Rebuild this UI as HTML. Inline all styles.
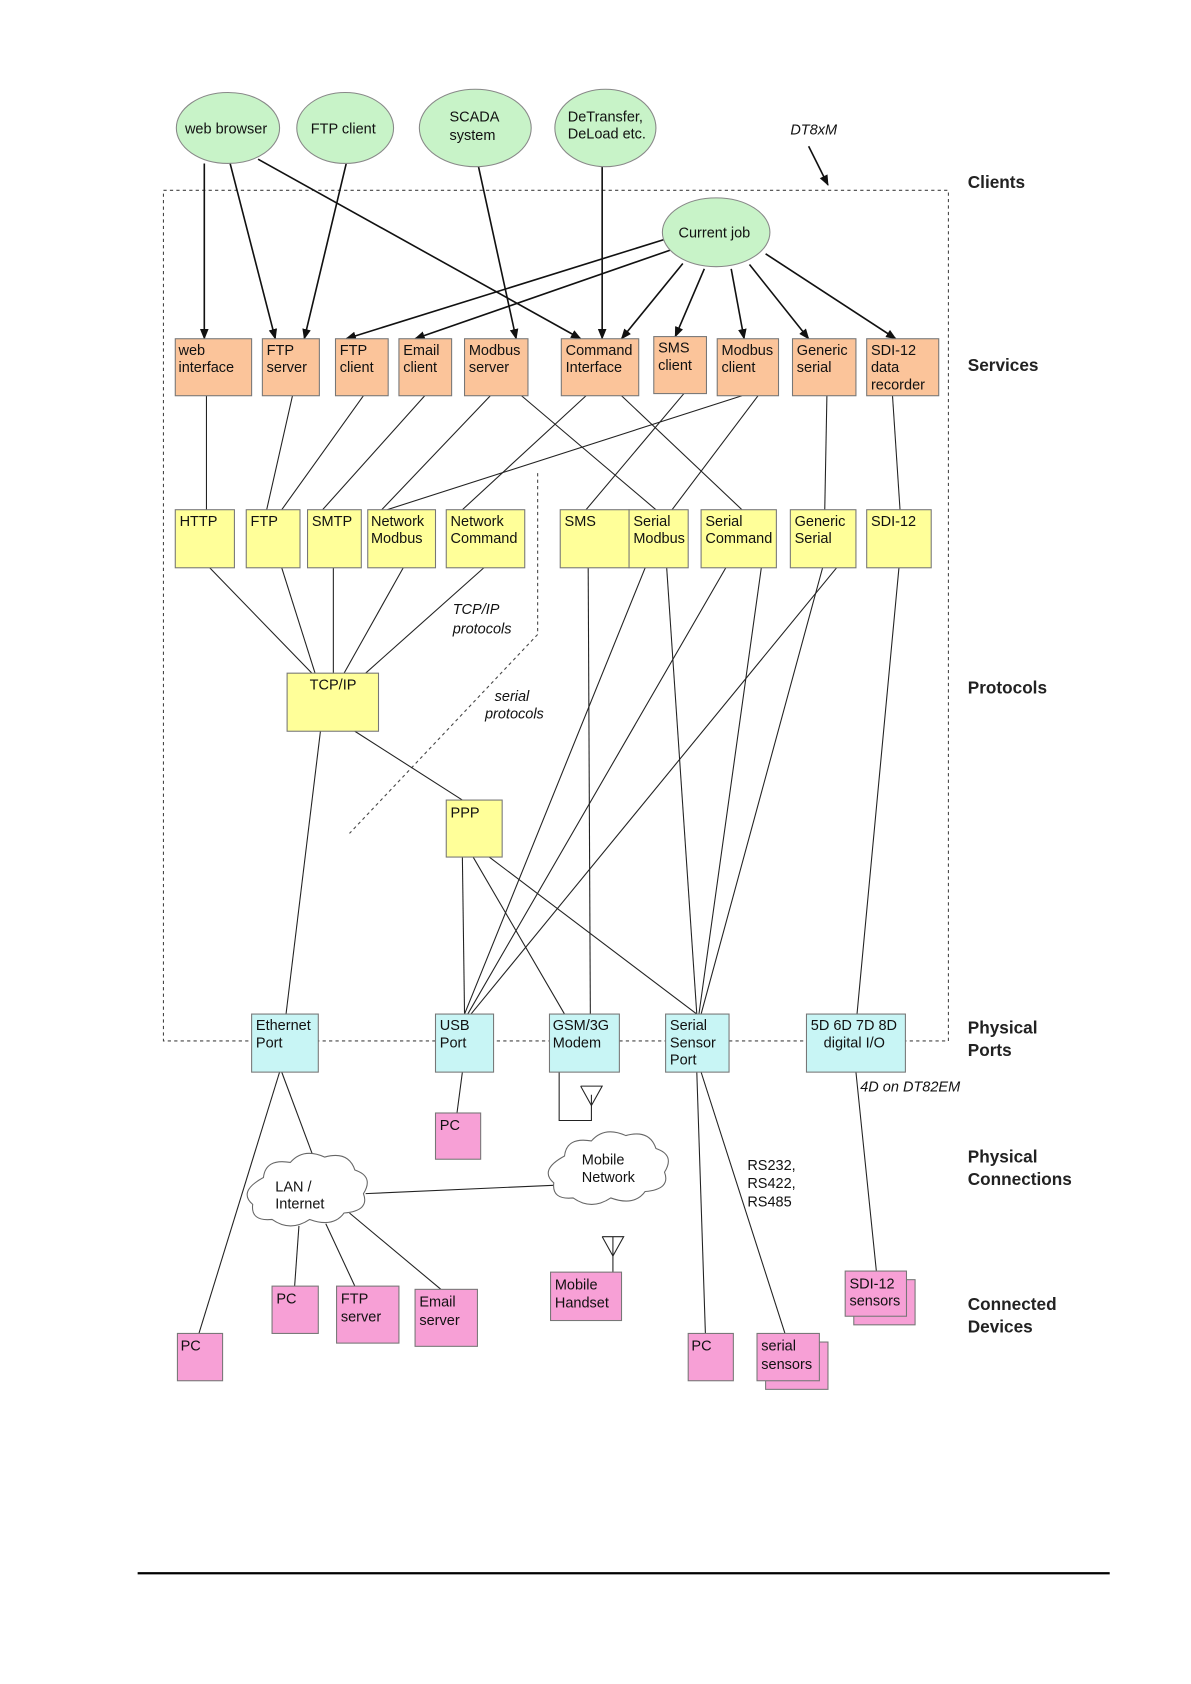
<!DOCTYPE html>
<html><head><meta charset="utf-8"><style>
html,body{margin:0;padding:0;background:#fff;}
svg{display:block;}
text{font-family:"Liberation Sans",sans-serif;font-size:13.5px;fill:#111;}
.b{font-weight:bold;font-size:16px;fill:#222;}
.i{font-style:italic;}
.s{fill:#fbc49a;stroke:#777;stroke-width:1}
.p{fill:#ffff99;stroke:#777;stroke-width:1}
.c{fill:#c8f5f5;stroke:#777;stroke-width:1}
.d{fill:#f7a0d6;stroke:#777;stroke-width:1}
.e{fill:#c8f3c8;stroke:#888;stroke-width:1}
.l{stroke:#222;stroke-width:1;fill:none}
.a{stroke:#111;stroke-width:1.5;fill:none;marker-end:url(#ar)}
</style></head><body>
<svg width="1191" height="1684" viewBox="0 0 1107.6 1566" preserveAspectRatio="none" xmlns="http://www.w3.org/2000/svg">
<defs><marker id="ar" markerWidth="10" markerHeight="10" refX="9" refY="5" orient="auto" markerUnits="userSpaceOnUse"><path d="M0,1 L10,5 L0,9 Z" fill="#111"/></marker></defs>
<rect x="152" y="177" width="730" height="791" fill="none" stroke="#444" stroke-dasharray="3,3"/>
<polyline points="500,440 500,590 325,775" fill="none" stroke="#444" stroke-dasharray="3,3"/>
<!-- client arrows -->
<line class="a" x1="190" y1="152" x2="190" y2="315"/>
<line class="a" x1="214" y1="152" x2="256" y2="315"/>
<line class="a" x1="240" y1="148" x2="540" y2="315"/>
<line class="a" x1="322" y1="152" x2="283" y2="315"/>
<line class="a" x1="445" y1="155" x2="480" y2="315"/>
<line class="a" x1="560" y1="155" x2="560" y2="315"/>
<line class="a" x1="620" y1="222" x2="322" y2="315"/>
<line class="a" x1="625" y1="232" x2="386" y2="315"/>
<line class="a" x1="635" y1="245" x2="578" y2="315"/>
<line class="a" x1="655" y1="250" x2="628" y2="313"/>
<line class="a" x1="680" y1="250" x2="692" y2="315"/>
<line class="a" x1="697" y1="246" x2="752" y2="315"/>
<line class="a" x1="712" y1="236" x2="833" y2="315"/>
<line class="a" x1="752" y1="136" x2="770" y2="172"/>
<!-- service-protocol -->
<g class="l">
<line x1="192" y1="368" x2="192" y2="474"/>
<line x1="272" y1="368" x2="248" y2="474"/>
<line x1="338" y1="368" x2="262" y2="474"/>
<line x1="395" y1="368" x2="300" y2="474"/>
<line x1="456" y1="368" x2="355" y2="474"/>
<line x1="485" y1="368" x2="610" y2="474"/>
<line x1="545" y1="368" x2="430" y2="474"/>
<line x1="578" y1="368" x2="690" y2="474"/>
<line x1="636" y1="366" x2="545" y2="474"/>
<line x1="690" y1="368" x2="360" y2="474"/>
<line x1="705" y1="368" x2="625" y2="474"/>
<line x1="769" y1="368" x2="767" y2="474"/>
<line x1="830" y1="368" x2="837" y2="474"/>
<line x1="195" y1="528" x2="290" y2="626"/>
<line x1="262" y1="528" x2="293" y2="626"/>
<line x1="310" y1="528" x2="310" y2="626"/>
<line x1="375" y1="528" x2="320" y2="626"/>
<line x1="450" y1="528" x2="340" y2="626"/>
<line x1="298" y1="680" x2="266" y2="943"/>
<line x1="330" y1="680" x2="430" y2="744"/>
<line x1="430" y1="797" x2="432" y2="943"/>
<line x1="440" y1="797" x2="525" y2="943"/>
<line x1="455" y1="797" x2="648" y2="943"/>
<line x1="547" y1="528" x2="549" y2="943"/>
<line x1="600" y1="528" x2="432" y2="943"/>
<line x1="620" y1="528" x2="648" y2="943"/>
<line x1="675" y1="528" x2="435" y2="943"/>
<line x1="708" y1="528" x2="650" y2="943"/>
<line x1="778" y1="528" x2="438" y2="943"/>
<line x1="765" y1="528" x2="652" y2="943"/>
<line x1="836" y1="528" x2="797" y2="943"/>
<line x1="260" y1="997" x2="185" y2="1240"/>
<line x1="262" y1="997" x2="293" y2="1080"/>
<line x1="430" y1="997" x2="425" y2="1035"/>
<polyline points="520,997 520,1042 550,1042 550,1018"/>
<polyline points="540,1010 560,1010 550,1028 540,1010"/>
<line x1="340" y1="1110" x2="520" y2="1102"/>
<line x1="278" y1="1140" x2="274" y2="1196"/>
<line x1="303" y1="1138" x2="330" y2="1196"/>
<line x1="325" y1="1128" x2="410" y2="1199"/>
<line x1="648" y1="997" x2="656" y2="1240"/>
<line x1="652" y1="997" x2="730" y2="1240"/>
<line x1="796" y1="997" x2="815" y2="1182"/>
<line x1="570" y1="1150" x2="570" y2="1183"/>
<polyline points="560,1150 580,1150 570,1168 560,1150"/>
</g>
<!-- ellipses -->
<ellipse class="e" cx="212" cy="119" rx="48" ry="33"/><text x="172" y="124">web browser</text>
<ellipse class="e" cx="321" cy="119" rx="45" ry="33"/><text x="289" y="124">FTP client</text>
<ellipse class="e" cx="442" cy="119" rx="52" ry="36"/><text x="418" y="113">SCADA</text><text x="418" y="130">system</text>
<ellipse class="e" cx="563" cy="119" rx="47" ry="36"/><text x="528" y="113">DeTransfer,</text><text x="528" y="129">DeLoad etc.</text>
<ellipse class="e" cx="666" cy="216" rx="50" ry="32"/><text x="631" y="221">Current job</text>
<!-- services -->
<rect class="s" x="163" y="315" width="71" height="53"/><text x="166" y="330">web</text><text x="166" y="346">interface</text>
<rect class="s" x="244" y="315" width="53" height="53"/><text x="248" y="330">FTP</text><text x="248" y="346">server</text>
<rect class="s" x="312" y="315" width="49" height="53"/><text x="316" y="330">FTP</text><text x="316" y="346">client</text>
<rect class="s" x="371" y="315" width="49" height="53"/><text x="375" y="330">Email</text><text x="375" y="346">client</text>
<rect class="s" x="432" y="315" width="59" height="53"/><text x="436" y="330">Modbus</text><text x="436" y="346">server</text>
<rect class="s" x="522" y="315" width="72" height="53"/><text x="526" y="330">Command</text><text x="526" y="346">Interface</text>
<rect class="s" x="608" y="313" width="49" height="53"/><text x="612" y="328">SMS</text><text x="612" y="344">client</text>
<rect class="s" x="667" y="315" width="57" height="53"/><text x="671" y="330">Modbus</text><text x="671" y="346">client</text>
<rect class="s" x="737" y="315" width="59" height="53"/><text x="741" y="330">Generic</text><text x="741" y="346">serial</text>
<rect class="s" x="806" y="315" width="67" height="53"/><text x="810" y="330">SDI-12</text><text x="810" y="346">data</text><text x="810" y="362">recorder</text>
<!-- protocols -->
<rect class="p" x="163" y="474" width="55" height="54"/><text x="167" y="489">HTTP</text>
<rect class="p" x="229" y="474" width="50" height="54"/><text x="233" y="489">FTP</text>
<rect class="p" x="286" y="474" width="50" height="54"/><text x="290" y="489">SMTP</text>
<rect class="p" x="342" y="474" width="63" height="54"/><text x="345" y="489">Network</text><text x="345" y="505">Modbus</text>
<rect class="p" x="415" y="474" width="73" height="54"/><text x="419" y="489">Network</text><text x="419" y="505">Command</text>
<rect class="p" x="521" y="474" width="64" height="54"/><text x="525" y="489">SMS</text>
<rect class="p" x="585" y="474" width="55" height="54"/><text x="589" y="489">Serial</text><text x="589" y="505">Modbus</text>
<rect class="p" x="652" y="474" width="70" height="54"/><text x="656" y="489">Serial</text><text x="656" y="505">Command</text>
<rect class="p" x="735" y="474" width="61" height="54"/><text x="739" y="489">Generic</text><text x="739" y="505">Serial</text>
<rect class="p" x="806" y="474" width="60" height="54"/><text x="810" y="489">SDI-12</text>
<rect class="p" x="267" y="626" width="85" height="54"/><text x="288" y="641">TCP/IP</text>
<rect class="p" x="415" y="744" width="52" height="53"/><text x="419" y="760">PPP</text>
<text class="i" x="421" y="571">TCP/IP</text><text class="i" x="421" y="589">protocols</text>
<text class="i" x="460" y="652">serial</text><text class="i" x="451" y="668">protocols</text>
<text class="i" x="735" y="125">DT8xM</text>
<!-- ports -->
<rect class="c" x="234" y="943" width="62" height="54"/><text x="238" y="958">Ethernet</text><text x="238" y="974">Port</text>
<rect class="c" x="405" y="943" width="54" height="54"/><text x="409" y="958">USB</text><text x="409" y="974">Port</text>
<rect class="c" x="511" y="943" width="65" height="54"/><text x="514" y="958">GSM/3G</text><text x="514" y="974">Modem</text>
<rect class="c" x="619" y="943" width="59" height="54"/><text x="623" y="958">Serial</text><text x="623" y="974">Sensor</text><text x="623" y="990">Port</text>
<rect class="c" x="750" y="943" width="92" height="54"/><text x="754" y="958">5D 6D 7D 8D</text><text x="766" y="974">digital I/O</text>
<text class="i" x="800" y="1015">4D on DT82EM</text>
<!-- clouds -->
<g fill="#fff" stroke="#666">
<path d="M245,1095 q2,-18 25,-14 q12,-14 32,-5 q22,-6 28,12 q18,6 8,22 q6,16 -18,18 q-10,14 -32,6 q-18,12 -35,0 q-20,2 -18,-14 q-14,-12 10,-25 z"/>
<path d="M525,1075 q2,-18 25,-14 q12,-14 32,-5 q22,-6 28,12 q18,6 8,22 q6,16 -18,18 q-10,14 -32,6 q-18,12 -35,0 q-20,2 -18,-14 q-14,-12 10,-25 z"/>
</g>
<text x="256" y="1108">LAN /</text><text x="256" y="1124">Internet</text>
<text x="541" y="1083">Mobile</text><text x="541" y="1099">Network</text>
<text x="695" y="1088">RS232,</text><text x="695" y="1105">RS422,</text><text x="695" y="1122">RS485</text>
<!-- devices -->
<rect class="d" x="405" y="1035" width="42" height="43"/><text x="409" y="1051">PC</text>
<rect class="d" x="512" y="1183" width="66" height="45"/><text x="516" y="1199">Mobile</text><text x="516" y="1216">Handset</text>
<rect class="d" x="253" y="1196" width="43" height="44"/><text x="257" y="1212">PC</text>
<rect class="d" x="313" y="1196" width="58" height="53"/><text x="317" y="1212">FTP</text><text x="317" y="1229">server</text>
<rect class="d" x="386" y="1199" width="58" height="53"/><text x="390" y="1215">Email</text><text x="390" y="1232">server</text>
<rect class="d" x="165" y="1240" width="42" height="44"/><text x="168" y="1256">PC</text>
<rect class="d" x="640" y="1240" width="42" height="44"/><text x="643" y="1256">PC</text>
<rect class="d" x="712" y="1248" width="58" height="44"/><rect class="d" x="704" y="1240" width="58" height="44"/><text x="708" y="1256">serial</text><text x="708" y="1273">sensors</text>
<rect class="d" x="794" y="1190" width="57" height="42"/><rect class="d" x="786" y="1182" width="57" height="42"/><text x="790" y="1198">SDI-12</text><text x="790" y="1214">sensors</text>
<!-- right labels -->
<text class="b" x="900" y="175">Clients</text>
<text class="b" x="900" y="345">Services</text>
<text class="b" x="900" y="645">Protocols</text>
<text class="b" x="900" y="961">Physical</text><text class="b" x="900" y="982">Ports</text>
<text class="b" x="900" y="1081">Physical</text><text class="b" x="900" y="1102">Connections</text>
<text class="b" x="900" y="1218">Connected</text><text class="b" x="900" y="1239">Devices</text>
<line x1="128" y1="1463" x2="1032" y2="1463" stroke="#000" stroke-width="2"/>
</svg>
</body></html>
